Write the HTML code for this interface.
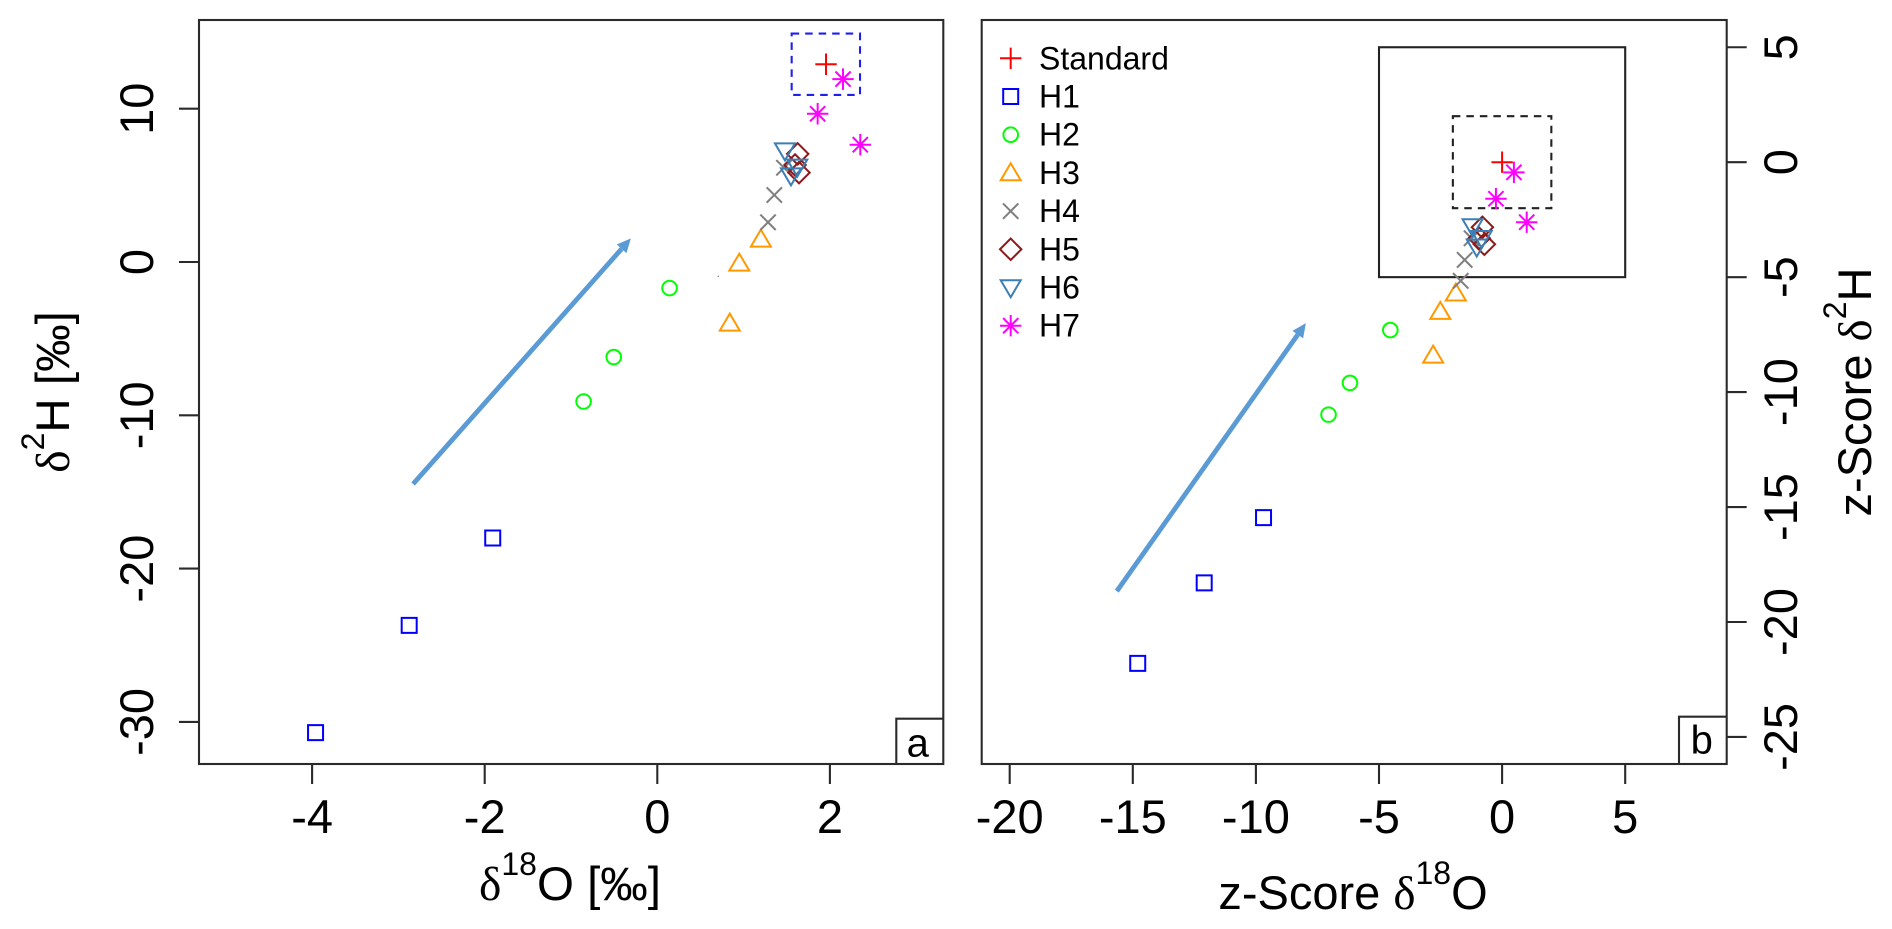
<!DOCTYPE html>
<html lang="en">
<head>
<meta charset="utf-8">
<title>Isotope scatter plots</title>
<style>
html,body{margin:0;padding:0;background:#fff;width:1892px;height:929px;overflow:hidden}
svg{display:block}
text{font-family:"Liberation Sans",sans-serif;fill:#000}
.greek{font-family:"Liberation Serif",serif}
</style>
</head>
<body>
<svg id="chart" xmlns="http://www.w3.org/2000/svg" width="1892" height="929" viewBox="0 0 1892 929">
  <g id="panel-a">
    <text x="570" y="900" font-size="47.5" text-anchor="middle"><tspan class="greek">δ</tspan><tspan font-size="32" dy="-25">18</tspan><tspan dy="25">O [‰]</tspan></text>
    <text x="69" y="392" font-size="47.5" text-anchor="middle" transform="rotate(-90 69 392)"><tspan class="greek">δ</tspan><tspan font-size="32" dy="-25">2</tspan><tspan dy="25">H [‰]</tspan></text>
  </g>
  <g id="panel-b">
    <text x="1353" y="909" font-size="47" text-anchor="middle">z-Score <tspan class="greek">δ</tspan><tspan font-size="32" dy="-25">18</tspan><tspan dy="25">O</tspan></text>
    <text x="1871" y="392" font-size="47" text-anchor="middle" transform="rotate(-90 1871 392)">z-Score <tspan class="greek">δ</tspan><tspan font-size="32" dy="-25">2</tspan><tspan dy="25">H</tspan></text>
  </g>
</svg>
<script>
// Panel a values (delta 18O, delta 2H in permil)
const seriesNames = ['Standard', 'H1', 'H2', 'H3', 'H4', 'H5', 'H6', 'H7'];
const seriesColors = ['#ff0000', '#0000ff', '#00ff00', '#ff9900', '#7f7f7f', '#8b1a1a', '#3a7fb5', '#ff00ff'];
const seriesShapes = ['plus', 'square', 'circle', 'triUp', 'cross', 'diamond', 'triDown', 'star'];

const xTicksA = [-4, -2, 0, 2];
const yTicksA = [10, 0, -10, -20, -30];
const xA = [
  [1.955],
  [-3.96, -2.875, -1.907],
  [-0.854, -0.505, 0.142],
  [0.84, 0.95, 1.2],
  [1.468, 1.356, 1.283],
  [1.627, 1.596, 1.642],
  [1.479, 1.622, 1.549],
  [2.152, 1.858, 2.352]
];
const yA = [
  [12.9],
  [-30.7, -23.7, -18.0],
  [-9.1, -6.2, -1.7],
  [-4.0, -0.09, 1.48],
  [6.15, 4.37, 2.59],
  [7.05, 6.33, 5.83],
  [7.26, 6.2, 5.63],
  [11.93, 9.67, 7.65]
];
const strayPointA = [0.707, -0.93];
const arrowA = [-2.83, -14.48, -0.306, 1.54];
const boxA = [1.557, 2.349, 10.9, 14.9];

// Panel b values (z-scores)
const xTicksB = [-20, -15, -10, -5, 0, 5];
const yTicksB = [5, 0, -5, -10, -15, -20, -25];
const xB = [
  [0],
  [-14.8, -12.1, -9.69],
  [-7.05, -6.18, -4.54],
  [-2.8, -2.51, -1.88],
  [-1.24, -1.52, -1.68],
  [-0.8, -0.93, -0.72],
  [-1.2, -0.83, -1.03],
  [0.48, -0.25, 1.0]
];
const yB = [
  [0],
  [-21.8, -18.3, -15.46],
  [-10.98, -9.6, -7.3],
  [-8.4, -6.5, -5.7],
  [-3.31, -4.25, -5.16],
  [-2.83, -3.31, -3.57],
  [-2.8, -3.31, -3.68],
  [-0.44, -1.59, -2.61]
];
const arrowB = [-15.65, -18.66, -7.97, -7.0];
const outerBoxB = [-5, 5, -5, 5];
const innerBoxB = [-2, 2, -2, 2];

const NS = 'http://www.w3.org/2000/svg';
const frameA = {left: 199, right: 943.3, top: 20, bottom: 764};
const frameB = {left: 981.7, right: 1726.7, top: 20, bottom: 764};
const scaleXA = v => 657.3 + 86.3 * v;
const scaleYA = v => 262 - 15.33 * v;
const scaleXB = v => 1502.1 + 24.62 * v;
const scaleYB = v => 162.2 - 22.99 * v;
const AXIS = '#2a2a2a';

function make(tag, parent, attrs) {
  const el = document.createElementNS(NS, tag);
  for (const k in attrs) el.setAttribute(k, attrs[k]);
  parent.appendChild(el);
  return el;
}

function markerPath(shape) {
  switch (shape) {
    case 'plus': return 'M-10.7 0H10.7M0 -10.7V10.7';
    case 'square': return 'M-7.5 -7.5H7.5V7.5H-7.5Z';
    case 'triUp': return 'M0 -9.7L10 7.3H-10Z';
    case 'triDown': return 'M0 9.7L10 -7.3H-10Z';
    case 'cross': return 'M-7.7 -7.7L7.7 7.7M-7.7 7.7L7.7 -7.7';
    case 'diamond': return 'M0 -10.7L10.7 0L0 10.7L-10.7 0Z';
    case 'star': return 'M-10.7 0H10.7M0 -10.7V10.7M-7.6 -7.6L7.6 7.6M-7.6 7.6L7.6 -7.6';
  }
  return '';
}

function drawMarker(parent, seriesIndex, cx, cy, name) {
  const shape = seriesShapes[seriesIndex];
  const color = seriesColors[seriesIndex];
  let el;
  if (shape === 'circle') {
    el = make('circle', parent, {cx: cx, cy: cy, r: 7.3, fill: 'none', stroke: color, 'stroke-width': 2});
  } else {
    el = make('path', parent, {d: markerPath(shape), transform: 'translate(' + cx + ' ' + cy + ')', fill: 'none', stroke: color, 'stroke-width': 2});
  }
  
  
  return el;
}

function drawFrame(parent, f, name) {
  const r = make('rect', parent, {x: f.left, y: f.top, width: f.right - f.left, height: f.bottom - f.top, fill: 'none', stroke: AXIS, 'stroke-width': 2.1});
  
  
}

function drawXAxis(parent, ticks, scale, f, panel) {
  ticks.forEach(t => {
    const x = scale(t);
    const line = make('line', parent, {x1: x, x2: x, y1: f.bottom, y2: f.bottom + 20, stroke: AXIS, 'stroke-width': 2.1});
    
    
    const label = make('text', parent, {x: x, y: 833, 'font-size': 47, 'text-anchor': 'middle'});
    label.textContent = String(t);
    
    
  });
}

function drawYAxis(parent, ticks, scale, axisX, dir, labelX, panel) {
  ticks.forEach(t => {
    const y = scale(t);
    const line = make('line', parent, {x1: axisX, x2: axisX + dir * 20, y1: y, y2: y, stroke: AXIS, 'stroke-width': 2.1});
    
    
    const label = make('text', parent, {x: labelX, y: y, 'font-size': 47, 'text-anchor': 'middle', transform: 'rotate(-90 ' + labelX + ' ' + y + ')'});
    label.textContent = String(t);
    
    
  });
}

function drawArrow(parent, a, sx, sy, name) {
  const x1 = sx(a[0]), y1 = sy(a[1]), x2 = sx(a[2]), y2 = sy(a[3]);
  const ang = Math.atan2(y2 - y1, x2 - x1);
  const len = 14, half = 6.5;
  const bx = x2 - len * Math.cos(ang), by = y2 - len * Math.sin(ang);
  const px = -Math.sin(ang) * half, py = Math.cos(ang) * half;
  const g = make('g', parent, {});
  
  
  make('line', g, {x1: x1, y1: y1, x2: bx, y2: by, stroke: '#5b9bd5', 'stroke-width': 4.8});
  make('path', g, {d: 'M' + x2 + ' ' + y2 + 'L' + (bx + px) + ' ' + (by + py) + 'L' + (bx - px) + ' ' + (by - py) + 'Z', fill: '#5b9bd5'});
}

function drawBox(parent, b, sx, sy, color, dash, name) {
  const attrs = {x: sx(b[0]), y: sy(b[3]), width: sx(b[1]) - sx(b[0]), height: sy(b[2]) - sy(b[3]), fill: 'none', stroke: color, 'stroke-width': 2.1};
  if (dash) attrs['stroke-dasharray'] = dash;
  const r = make('rect', parent, attrs);
  
  
}

function drawCorner(parent, f, boxLeft, boxTop, letter, lx, ly, name) {
  const p = make('path', parent, {d: 'M' + boxLeft + ' ' + f.bottom + 'V' + boxTop + 'H' + f.right, fill: 'none', stroke: AXIS, 'stroke-width': 2.1});
  
  
  const t = make('text', parent, {x: lx, y: ly, 'font-size': 40, 'text-anchor': 'middle'});
  t.textContent = letter;
  
  
}

function drawSeries(parent, xs, ys, sx, sy, panel) {
  xs.forEach((col, i) => {
    col.forEach((v, j) => {
      drawMarker(parent, i, sx(v), sy(ys[i][j]), seriesNames[i].toLowerCase() + '-point-' + panel);
    });
  });
}

const gA = document.getElementById('panel-a');
const gB = document.getElementById('panel-b');

// Panel a
drawFrame(gA, frameA, 'plot-frame-a');
drawXAxis(gA, xTicksA, scaleXA, frameA, 'a');
drawYAxis(gA, yTicksA, scaleYA, frameA.left, -1, 153, 'a');
drawArrow(gA, arrowA, scaleXA, scaleYA, 'trend-arrow-a');
drawBox(gA, boxA, scaleXA, scaleYA, '#1f1fee', '7.5 6', 'standard-range-box-a');
drawSeries(gA, xA, yA, scaleXA, scaleYA, 'a');
const stray = make('circle', gA, {cx: scaleXA(strayPointA[0]), cy: scaleYA(strayPointA[1]), r: 0.8, fill: '#888'});


drawCorner(gA, frameA, 896.3, 718.7, 'a', 917.7, 756.7, 'panel-label-a');

// Panel b
drawFrame(gB, frameB, 'plot-frame-b');
drawXAxis(gB, xTicksB, scaleXB, frameB, 'b');
drawYAxis(gB, yTicksB, scaleYB, frameB.right, 1, 1797, 'b');
drawArrow(gB, arrowB, scaleXB, scaleYB, 'trend-arrow-b');
drawBox(gB, outerBoxB, scaleXB, scaleYB, '#222', null, 'limit-box-5');
drawBox(gB, innerBoxB, scaleXB, scaleYB, '#222', '7.5 6', 'limit-box-2');
drawSeries(gB, xB, yB, scaleXB, scaleYB, 'b');
drawCorner(gB, frameB, 1679, 716.7, 'b', 1701.7, 753.3, 'panel-label-b');

// Legend
const legend = make('g', gB, {});


seriesNames.forEach((name, i) => {
  const rowY = 58.3 + i * 38.2;
  const entry = make('g', legend, {});
  
  
  drawMarker(entry, i, 1010.7, rowY, 'legend-marker');
  const label = make('text', entry, {x: 1039, y: rowY + 11, 'font-size': 32});
  label.textContent = name;
  
  
});
</script>
</body>
</html>
